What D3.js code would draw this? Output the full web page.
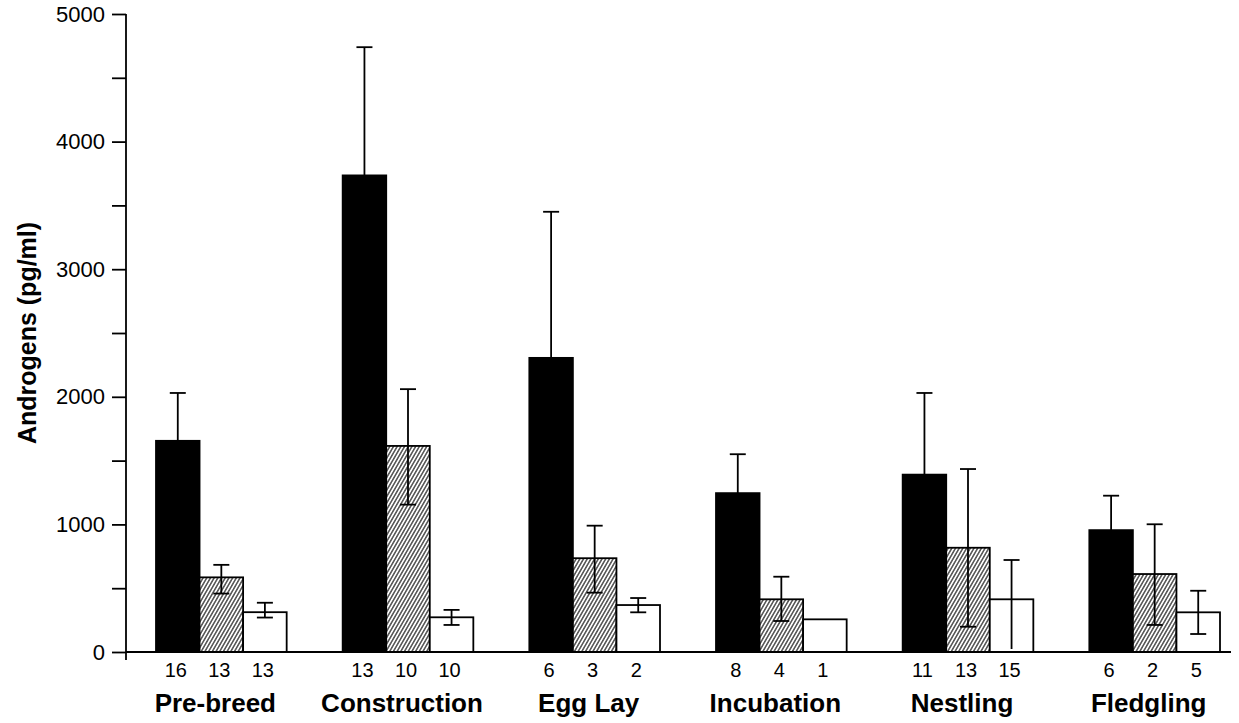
<!DOCTYPE html>
<html>
<head>
<meta charset="utf-8">
<script src="https://cdn.jsdelivr.net/npm/d3@7"></script>
<style>
  body { margin: 0; background: #fff; }
  text { font-family: "Liberation Sans", Arial, sans-serif; fill: #000; }
</style>
</head>
<body>
<div id="chart"></div>
<script>
// breeding stages along the bottom
var categories = ["Pre-breed", "Construction", "Egg Lay", "Incubation", "Nestling", "Fledgling"];
var seriesKeys = ["solid", "hatched", "open"];

// mean androgens (pg/ml)
var solidMeans   = [1655, 3735, 2305, 1245, 1390, 955];
var hatchedMeans = [585, 1615, 735, 413, 817, 611];
var openMeans    = [312, 272, 368, 256, 413, 311];

// error bar ends (null = not drawn)
var solidHi   = [2030, 4740, 3450, 1550, 2030, 1225];
var solidLo   = [null, null, null, null, null, null];
var hatchedHi = [683, 2060, 990, 590, 1434, 1001];
var hatchedLo = [458, 1155, 465, 243, 198, 212];
var openHi    = [386, 330, 423, null, 721, 480];
var openLo    = [270, 212, 311, null, 0, 141];

// sample sizes printed under each bar
var solidN   = [16, 13, 6, 8, 11, 6];
var hatchedN = [13, 10, 3, 4, 13, 2];
var openN    = [13, 10, 2, 1, 15, 5];

var yTickValues = [0, 500, 1000, 1500, 2000, 2500, 3000, 3500, 4000, 4500, 5000];

var svgWidth = 1239;
var svgHeight = 723;

var svg = d3.select("#chart").append("svg")
  .attr("width", svgWidth)
  .attr("height", svgHeight);

// hatch for the middle bars
var defs = svg.append("defs");
var pat = defs.append("pattern")
  .attr("id", "hatch")
  .attr("patternUnits", "userSpaceOnUse")
  .attr("width", 3.2)
  .attr("height", 3.2)
  .attr("patternTransform", "rotate(30)");
pat.append("rect").attr("width", 3.2).attr("height", 3.2).attr("fill", "#fff");
pat.append("line")
  .attr("x1", 0.8).attr("y1", 0).attr("x2", 0.8).attr("y2", 3.2)
  .attr("stroke", "#333").attr("stroke-width", 1.3);

var x0 = d3.scaleBand().domain(categories).range([156, 1220]).paddingInner(0.3).paddingOuter(0);
var x1 = d3.scaleBand().domain(seriesKeys).range([0, x0.bandwidth()]).padding(0);
var y = d3.scaleLinear().domain([0, 5000]).range([652, 14]);

var table = [];
categories.forEach(function(c, i) {
  table.push({cat: c, key: "solid",   mean: solidMeans[i],   hi: solidHi[i],   lo: solidLo[i],   n: solidN[i]});
  table.push({cat: c, key: "hatched", mean: hatchedMeans[i], hi: hatchedHi[i], lo: hatchedLo[i], n: hatchedN[i]});
  table.push({cat: c, key: "open",    mean: openMeans[i],    hi: openHi[i],    lo: openLo[i],    n: openN[i]});
});

var fills = {solid: "#000", hatched: "url(#hatch)", open: "#fff"};

// y axis
var yAxis = d3.axisLeft(y)
  .tickValues(yTickValues)
  .tickSize(14)
  .tickPadding(7)
  .tickFormat(function(d) { return d % 1000 === 0 ? d : ""; });

var axisX = 126;
var gy = svg.append("g")
  .attr("transform", "translate(" + axisX + ",0)")
  .call(yAxis);
gy.select(".domain").remove();
gy.selectAll(".tick line").attr("stroke", "#000").attr("stroke-width", 1.8);
gy.selectAll(".tick text")
  .style("font-size", "22px")
  .style("font-family", "'Liberation Sans', Arial, sans-serif");
svg.append("line")
  .attr("x1", axisX).attr("x2", axisX)
  .attr("y1", y(5000)).attr("y2", y(0) + 8)
  .attr("stroke", "#000").attr("stroke-width", 1.8);

// bars
svg.append("g").selectAll("rect")
  .data(table)
  .enter().append("rect")
  .attr("x", function(d) { return x0(d.cat) + x1(d.key); })
  .attr("y", function(d) { return y(d.mean); })
  .attr("width", x1.bandwidth())
  .attr("height", function(d) { return y(0) - y(d.mean); })
  .attr("fill", function(d) { return fills[d.key]; })
  .attr("stroke", "#000")
  .attr("stroke-width", 1.8);

// baseline
svg.append("line")
  .attr("x1", axisX).attr("x2", x0.range()[1] + 11)
  .attr("y1", y(0)).attr("y2", y(0))
  .attr("stroke", "#000").attr("stroke-width", 2);

// error bars
var capW = 8;
var errs = svg.append("g");
table.forEach(function(d) {
  if (d.hi == null) return;
  var cx = x0(d.cat) + x1(d.key) + x1.bandwidth() / 2;
  var lo = d.lo == null ? d.mean : d.lo;
  errs.append("line")
    .attr("x1", cx).attr("x2", cx)
    .attr("y1", y(d.hi)).attr("y2", d.lo === 0 ? y(0) - 3 : y(lo))
    .attr("stroke", "#000").attr("stroke-width", 1.8);
  errs.append("line")
    .attr("x1", cx - capW).attr("x2", cx + capW)
    .attr("y1", y(d.hi)).attr("y2", y(d.hi))
    .attr("stroke", "#000").attr("stroke-width", 1.8);
  if (d.lo != null && d.lo > 0) {
    errs.append("line")
      .attr("x1", cx - capW).attr("x2", cx + capW)
      .attr("y1", y(d.lo)).attr("y2", y(d.lo))
      .attr("stroke", "#000").attr("stroke-width", 1.8);
  }
});

// sample sizes
svg.append("g").selectAll("text")
  .data(table)
  .enter().append("text")
  .attr("x", function(d) { return x0(d.cat) + x1(d.key) + x1.bandwidth() / 2 - 2; })
  .attr("y", 677)
  .attr("text-anchor", "middle")
  .style("font-size", "20px")
  .text(function(d) { return d.n; });

// stage labels (sit a little left of the bar groups in the original)
svg.append("g").selectAll("text")
  .data(categories)
  .enter().append("text")
  .attr("x", function(d) { return x0(d) + x0.bandwidth() / 2 - 6; })
  .attr("y", 712)
  .attr("text-anchor", "middle")
  .style("font-size", "26px")
  .style("font-weight", "bold")
  .text(function(d) { return d; });

// y title
svg.append("text")
  .attr("transform", "rotate(-90)")
  .attr("x", -(y(0) + y(5000)) / 2)
  .attr("y", 36)
  .attr("text-anchor", "middle")
  .style("font-size", "25px")
  .style("font-weight", "bold")
  .text("Androgens (pg/ml)");
</script>
</body>
</html>
